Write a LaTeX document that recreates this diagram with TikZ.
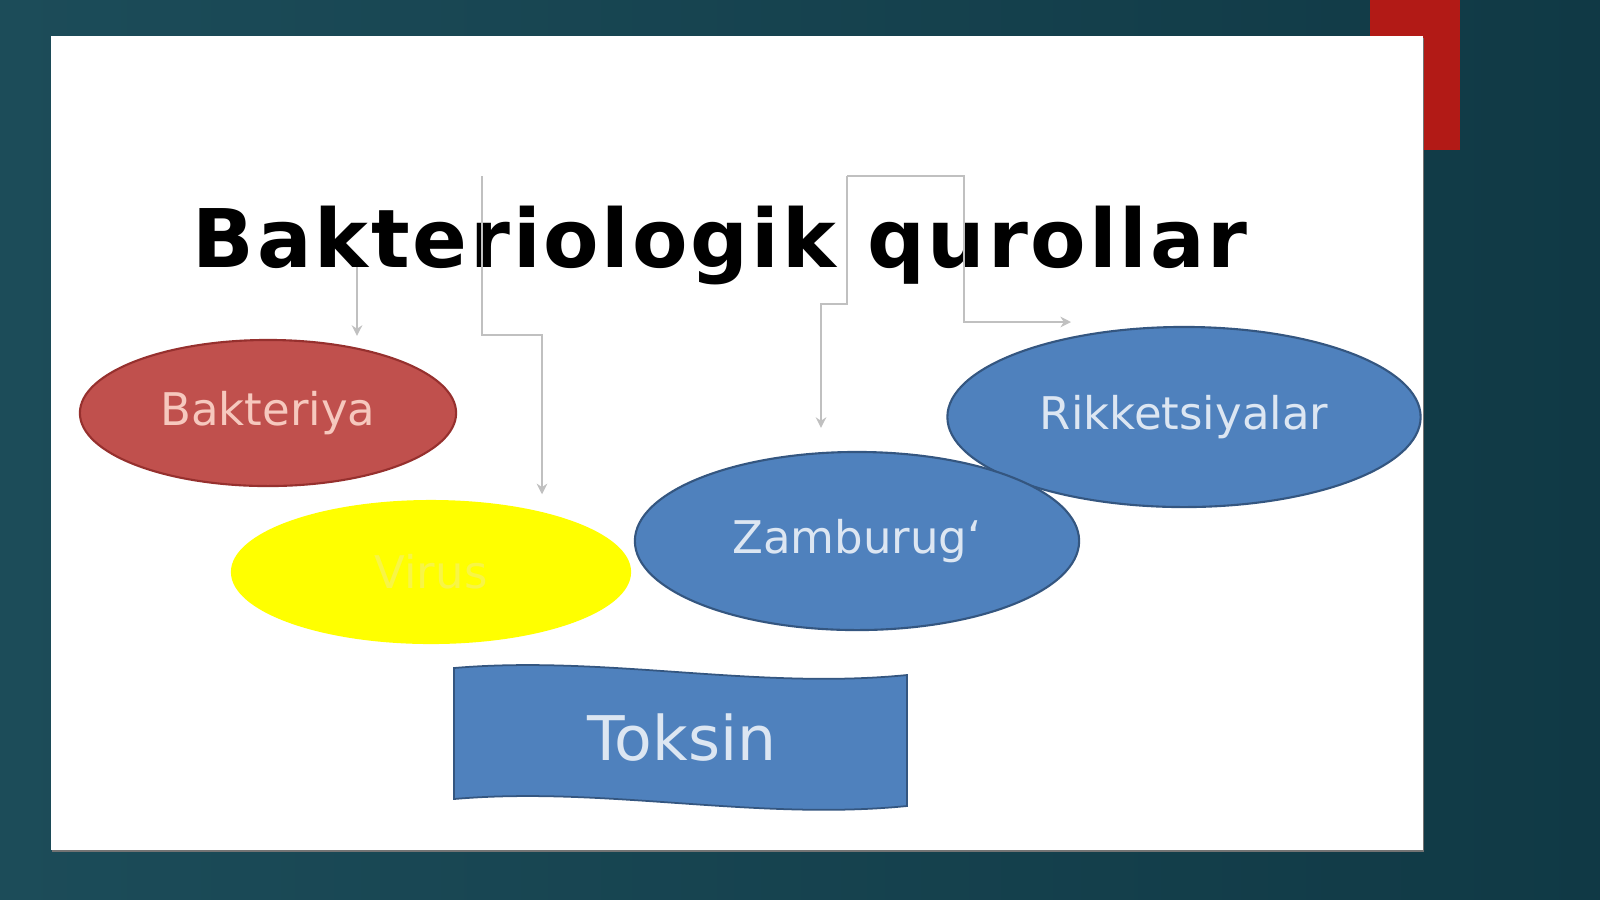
\documentclass[tikz,border=0pt]{standalone}
\usepackage{fontspec}
\setmainfont{DejaVu Sans}
\usetikzlibrary{shapes.geometric, arrows.meta, positioning}
\definecolor{bgTeal}{RGB}{28, 76, 89}
\definecolor{bgDeep}{RGB}{16, 57, 69}
\definecolor{cornerRed}{RGB}{178, 26, 22}
\definecolor{bactRed}{RGB}{192, 80, 77}
\definecolor{bactEdge}{RGB}{150, 48, 46}
\definecolor{bactText}{RGB}{246, 200, 190}
\definecolor{virusYellow}{RGB}{255, 255, 0}
\definecolor{virusText}{RGB}{248, 245, 70}
\definecolor{accentBlue}{RGB}{79, 129, 189}
\definecolor{blueEdge}{RGB}{52, 86, 128}
\definecolor{blueText}{RGB}{220, 230, 242}
\definecolor{linkGray}{RGB}{192, 192, 192}
\tikzset{
    agent_node/.style={
        ellipse,
        inner sep=0pt,
        font=\fontsize{12.8}{15}\selectfont
    },
    bact_node/.style={
        agent_node,
        fill=bactRed,
        draw=bactEdge,
        line width=0.6pt,
        text=bactText
    },
    virus_node/.style={
        agent_node,
        fill=virusYellow,
        text=virusText
    },
    blue_node/.style={
        agent_node,
        fill=accentBlue,
        draw=blueEdge,
        line width=0.6pt,
        text=blueText
    },
    title_text/.style={
        font=\fontsize{23}{28}\selectfont\bfseries\addfontfeatures{LetterSpace=3.5},
        text=black,
        inner sep=0pt
    },
    link_edge/.style={
        -{Stealth[length=3pt, width=3pt]},
        draw=linkGray,
        line width=0.6pt
    }
}

\begin{document}
\begin{tikzpicture}[x=0.01cm, y=-0.01cm]
    \useasboundingbox (0,0) rectangle (1600,899);
    % slide background
    \shade[left color=bgTeal, right color=bgDeep] (0,0) rectangle (1600,899);
    \fill[cornerRed] (1370,0) rectangle (1460,150);
    \fill[black!55] (52,38) rectangle (1424,852);
    \fill[white] (51,36) rectangle (1423,850);

    % title
    \node[title_text, anchor=base west] (title) at (192,267) {Bakteriologik qurollar};

    % agents
    \node[bact_node, minimum width=3.76cm, minimum height=1.46cm] (bakteriya) at (268,413) {Bakteriya};
    \node[virus_node, minimum width=4.00cm, minimum height=1.44cm] (virus) at (431,572) {Virus};
    \node[blue_node, minimum width=4.73cm, minimum height=1.80cm] (rikket) at (1184,417) {Rikketsiyalar};
    \node[blue_node, minimum width=4.44cm, minimum height=1.78cm] (zamburug) at (857,541) {Zamburug‘};

    % toksin wave
    \fill[accentBlue, draw=blueEdge, line width=0.5pt]
        (454,668) .. controls (605,655) and (756,690) .. (907,675)
        -- (907,806) .. controls (756,821) and (605,786) .. (454,799) -- cycle;
    \node[font=\fontsize{17.5}{20}\selectfont, text=blueText, anchor=base] (toksin) at (682,760) {Toksin};

    % connectors
    \coordinate (bStart) at (357,267);
    \coordinate (vStart) at (482,176);
    \coordinate (vBend) at (542,335);
    \coordinate (zStart) at (847,176);
    \coordinate (zBend) at (821,304);
    \coordinate (rBend) at (964,322);
    \coordinate (rTip) at (1071,322);

    \draw[link_edge, shorten >=0.03cm] (bStart) -- (bStart |- bakteriya.north);
    \draw[link_edge, shorten >=0.05cm] (vStart) |- (vBend) -- (vBend |- virus.north);
    \draw[link_edge, shorten >=0.23cm] (zStart) |- (zBend) -- (zBend |- zamburug.north);
    \draw[link_edge] (zStart) -| (rBend) -- (rTip);
\end{tikzpicture}
\end{document}
